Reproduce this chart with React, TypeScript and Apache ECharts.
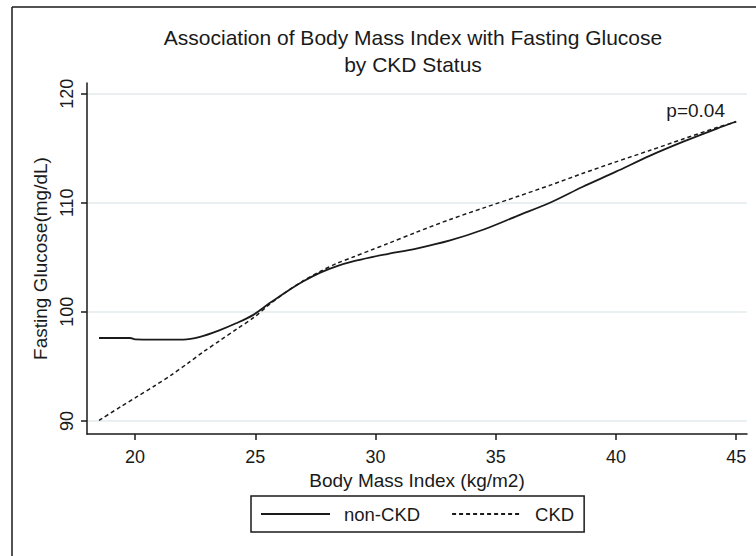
import React, { useEffect, useRef } from "react";
import * as echarts from "echarts";

const titleLines = ["Association of Body Mass Index with Fasting Glucose", "by CKD Status"];
const xAxisTitle = "Body Mass Index (kg/m2)";
const yAxisTitle = "Fasting Glucose(mg/dL)";
const pValueText = "p=0.04";
const seriesNames = ["non-CKD", "CKD"];

const xTicks = [20, 25, 30, 35, 40, 45];
const yTicks = [90, 100, 110, 120];

const bmiNonCkd = [18.5, 19.8, 20.0, 22.0, 22.7, 23.5, 24.2, 24.9, 25.6, 26.3, 27.0, 27.7, 28.4, 29.1, 29.8, 30.5, 31.7, 33.1, 34.5, 35.9, 37.3, 38.6, 40.0, 41.4, 42.8, 44.2, 45.0];
const glucoseNonCkd = [97.6, 97.6, 97.48, 97.45, 97.7, 98.3, 98.95, 99.7, 100.8, 101.85, 102.8, 103.6, 104.2, 104.65, 105.0, 105.3, 105.8, 106.55, 107.55, 108.8, 110.05, 111.45, 112.85, 114.3, 115.6, 116.8, 117.45];

const bmiCkd = [18.5, 19.4, 20.1, 20.8, 21.5, 22.2, 22.85, 23.55, 24.25, 24.95, 25.6, 26.3, 27.0, 27.7, 28.4, 29.1, 29.8, 30.5, 31.7, 33.1, 34.5, 35.9, 37.3, 38.6, 40.0, 41.4, 42.8, 44.2, 45.0];
const glucoseCkd = [90.05, 91.3, 92.25, 93.2, 94.2, 95.3, 96.35, 97.4, 98.45, 99.5, 100.7, 101.85, 102.85, 103.7, 104.45, 105.05, 105.65, 106.25, 107.3, 108.47, 109.53, 110.57, 111.64, 112.68, 113.75, 114.79, 115.85, 116.9, 117.42];

const FONT = '"Liberation Sans", Arial, sans-serif';
const INK = "#1a1a1a";

export default function App() {
  const ref = useRef<HTMLDivElement>(null);
  useEffect(() => {
    if (!ref.current) return;
    const chart = echarts.init(ref.current, undefined, { renderer: "svg" });
    const pairs = (xs: number[], ys: number[]) => xs.map((x, i) => [x, ys[i]]);
    chart.setOption({
      animation: false,
      backgroundColor: "#ffffff",
      textStyle: { fontFamily: FONT, color: INK },
      title: {
        text: titleLines.join("\n"),
        left: 413,
        top: 24,
        padding: 0,
        textAlign: "center",
        textStyle: { fontFamily: FONT, fontSize: 21, fontWeight: "normal", color: INK, lineHeight: 27 },
      },
      grid: { left: 87, top: 83, right: 9, bottom: 122, containLabel: false },
      legend: {
        left: 251,
        top: 496,
        orient: "horizontal",
        padding: [8, 10, 8, 9],
        borderColor: INK,
        borderWidth: 1.5,
        itemWidth: 69,
        itemHeight: 20,
        itemGap: 31,
        selectedMode: false,
        itemStyle: { opacity: 0, borderWidth: 0 },
        textStyle: { fontFamily: FONT, fontSize: 18.5, color: INK, lineHeight: 20, padding: [0, 0, 0, 9] },
        data: seriesNames,
      },
      xAxis: {
        type: "value",
        min: 18,
        max: 45.45,
        name: xAxisTitle,
        nameLocation: "middle",
        nameGap: 31,
        nameTextStyle: { fontFamily: FONT, fontSize: 19, color: INK, lineHeight: 19 },
        axisLine: { show: true, onZero: false, lineStyle: { color: INK, width: 1.5 } },
        axisTick: { show: true, inside: false, length: 6, customValues: xTicks, lineStyle: { color: INK, width: 1.5 } },
        axisLabel: { customValues: xTicks, margin: 14, fontFamily: FONT, fontSize: 18, color: INK, lineHeight: 18 },
        splitLine: { show: false },
      },
      yAxis: {
        type: "value",
        min: 88.8,
        max: 120.98,
        name: yAxisTitle,
        nameLocation: "middle",
        nameRotate: 90,
        nameGap: 34,
        nameTextStyle: { fontFamily: FONT, fontSize: 19, color: INK, lineHeight: 19 },
        axisLine: { show: true, onZero: false, lineStyle: { color: INK, width: 1.5 } },
        axisTick: { show: true, inside: false, length: 6, customValues: yTicks, lineStyle: { color: INK, width: 1.5 } },
        axisLabel: { customValues: yTicks, rotate: 90, margin: 11, fontFamily: FONT, fontSize: 18, color: INK, lineHeight: 18 },
        splitLine: { show: true, lineStyle: { color: "#e3ebee", width: 1.5 } },
      },
      graphic: [
        { type: "line", shape: { x1: 12, y1: 7, x2: 12, y2: 556 }, style: { stroke: INK, lineWidth: 1.5 } },
        { type: "line", shape: { x1: 12, y1: 7, x2: 756, y2: 7 }, style: { stroke: INK, lineWidth: 1.5 } },
        {
          type: "text",
          x: 725,
          y: 110,
          style: { text: pValueText, fontFamily: FONT, fontSize: 19, fill: INK, align: "right", verticalAlign: "middle" },
        },
      ],
      series: [
        {
          name: seriesNames[0],
          type: "line",
          data: pairs(bmiNonCkd, glucoseNonCkd),
          smooth: 0.3,
          symbol: "none",
          lineStyle: { color: INK, width: 1.8, type: "solid" },
          itemStyle: { color: INK },
        },
        {
          name: seriesNames[1],
          type: "line",
          data: pairs(bmiCkd, glucoseCkd),
          smooth: 0.3,
          symbol: "none",
          lineStyle: { color: INK, width: 1.5, type: [4, 3] },
          itemStyle: { color: INK },
        },
      ],
    });
    return () => chart.dispose();
  }, []);
  return <div ref={ref} style={{ position: "fixed", left: 0, top: 0, width: 756, height: 556 }} />;
}
